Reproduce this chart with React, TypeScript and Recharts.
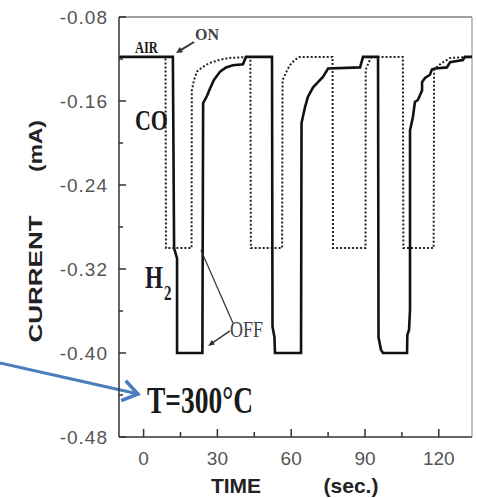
import React from 'react';
import { LineChart, Line, XAxis, YAxis, ReferenceLine, ReferenceDot } from 'recharts';

// ---- data (time in s, current in mA) ----
const h2Time = [-10, 11.9, 12.4, 13.6, 13.6, 23.9, 24.2, 25.8, 27.0, 28.6, 31.1, 33.5, 36.3, 40.4, 41.6, 52.2, 52.4, 53.2, 53.4, 64.0, 64.2, 65.6, 66.8, 68.9, 70.9, 72.9, 75.0, 88.0, 89.2, 95.3, 95.5, 96.5, 97.3, 107.1, 107.2, 107.9, 108.3, 108.3, 109.5, 110.3, 111.5, 113.2, 113.2, 114.4, 116.4, 117.2, 118.5, 123.3, 124.6, 129.8, 130.6, 133.5];
const h2Current = [-0.118, -0.118, -0.30, -0.31, -0.40, -0.40, -0.162, -0.155, -0.148, -0.140, -0.132, -0.128, -0.126, -0.125, -0.118, -0.118, -0.375, -0.385, -0.40, -0.40, -0.181, -0.166, -0.156, -0.147, -0.142, -0.137, -0.129, -0.128, -0.118, -0.118, -0.385, -0.397, -0.40, -0.40, -0.383, -0.378, -0.359, -0.188, -0.175, -0.161, -0.159, -0.150, -0.142, -0.138, -0.135, -0.130, -0.129, -0.128, -0.123, -0.121, -0.118, -0.118];

const coTime = [-10, 8.9, 9.1, 19.5, 19.6, 20.5, 21.7, 23.7, 26.6, 30.6, 34.6, 43.4, 43.6, 56.3, 56.5, 58.1, 59.4, 61.4, 63.4, 76.8, 77.0, 90.2, 90.3, 92.5, 105.4, 105.6, 117.9, 118.1, 119.0, 121.0, 123.2, 124.6, 133.5];
const coCurrent = [-0.118, -0.118, -0.30, -0.30, -0.15, -0.140, -0.132, -0.128, -0.124, -0.121, -0.119, -0.118, -0.30, -0.30, -0.14, -0.132, -0.126, -0.121, -0.118, -0.118, -0.30, -0.30, -0.13, -0.118, -0.118, -0.30, -0.30, -0.13, -0.128, -0.124, -0.121, -0.119, -0.118];

const xTicks = [0, 15, 30, 45, 60, 75, 90, 105, 120];
const xLabelTicks = [0, 30, 60, 90, 120];
const yTicks = [-0.48, -0.44, -0.40, -0.36, -0.32, -0.28, -0.24, -0.20, -0.16, -0.12, -0.08];
const yLabelTicks = [-0.48, -0.40, -0.32, -0.24, -0.16, -0.08];

const annotationTime = { air: -3.5, on: 20.9, co: -3.5, h2: 0.57, off: 35.1, temp: 1.38 };
const annotationCurrent = { air: -0.1143, on: -0.1019, co: -0.1876, h2: -0.3381, off: -0.3848, temp: -0.4571 };
const arrowOn = [{ x: 20.5, y: -0.1038 }, { x: 13.2, y: -0.1143 }];
const lineOff = [{ x: 36.3, y: -0.3714 }, { x: 23.3, y: -0.3019 }];
const arrowOff = [{ x: 35.1, y: -0.379 }, { x: 26.2, y: -0.3933 }];
const blueArrow = [{ x: -58.4, y: -0.4095 }, { x: -2.3, y: -0.439 }];

const h2Data = h2Time.map((t, i) => ({ t, current: h2Current[i] }));
const coData = coTime.map((t, i) => ({ t, current: coCurrent[i] }));

const SANS = '"Liberation Sans", Arial, sans-serif';
const SERIF = '"Liberation Serif", "Times New Roman", serif';

const near = (a: number, list: number[]) => list.some((v) => Math.abs(v - a) < 1e-6);

const XTick = (props: any) => {
  const { x, y, payload } = props;
  const major = near(payload.value, xLabelTicks);
  return (
    <g>
      <line x1={x} x2={x} y1={y} y2={y - (major ? 8 : 5)} stroke="#333" strokeWidth={1.5} />
      {major && (
        <text x={x} y={y + 28} textAnchor="middle" fontSize={19} fill="#555" fontFamily={SANS}>
          {payload.value}
        </text>
      )}
    </g>
  );
};

const YTick = (props: any) => {
  const { x, y, payload } = props;
  const major = near(payload.value, yLabelTicks);
  return (
    <g>
      <line x1={x} x2={x + (major ? 7 : 4)} y1={y} y2={y} stroke="#333" strokeWidth={1.5} />
      {major && (
        <text x={x - 11} y={y + 7} textAnchor="end" fontSize={19} fill="#555" fontFamily={SANS} letterSpacing={1}>
          {Number(payload.value).toFixed(2)}
        </text>
      )}
    </g>
  );
};

const XTitle = (props: any) => {
  const vb = props.viewBox || { x: 119, y: 437 };
  const y = vb.y + 56;
  return (
    <g fontFamily={SANS} fontWeight="bold" fontSize={21} fill="#222">
      <text x={vb.x + 117} y={y} textAnchor="middle">TIME</text>
      <text x={vb.x + 232} y={y} textAnchor="middle">(sec.)</text>
    </g>
  );
};

const YTitle = () => (
  <g fontFamily={SANS} fontWeight="bold" fontSize={19} fill="#222">
    <text transform="translate(42,279) rotate(-90) scale(1.37,1)" textAnchor="middle">CURRENT</text>
    <text transform="translate(42,146) rotate(-90) scale(1.2,1)" textAnchor="middle">(mA)</text>
  </g>
);

const serifText = (label: string, size: number, weight: string, sy: number, color = '#1a1a1a') => (p: any) => (
  <text transform={`translate(${p.cx},${p.cy}) scale(1,${sy})`} fontFamily={SERIF} fontSize={size} fontWeight={weight} fill={color}>
    {label}
  </text>
);

const h2Shape = (p: any) => (
  <text transform={`translate(${p.cx},${p.cy}) scale(1,1.37)`} fontFamily={SERIF} fontSize={23} fontWeight="bold" fill="#1a1a2a">
    H<tspan dx={1} dy={9} fontSize={15}>2</tspan>
  </text>
);

const arrowShape = (color: string, width: number, head: 'filled' | 'chevron' | 'none', len: number, spread: number) => (p: any) => {
  const { x1, y1, x2, y2 } = p;
  const ang = Math.atan2(y2 - y1, x2 - x1);
  const b1 = ang + Math.PI - spread;
  const b2 = ang + Math.PI + spread;
  const h1x = x2 + len * Math.cos(b1);
  const h1y = y2 + len * Math.sin(b1);
  const h2x = x2 + len * Math.cos(b2);
  const h2y = y2 + len * Math.sin(b2);
  const ex = head === 'filled' ? x2 - len * 0.7 * Math.cos(ang) : x2 - 3 * Math.cos(ang);
  const ey = head === 'filled' ? y2 - len * 0.7 * Math.sin(ang) : y2 - 3 * Math.sin(ang);
  return (
    <g>
      <line x1={x1} y1={y1} x2={head === 'none' ? x2 : ex} y2={head === 'none' ? y2 : ey} stroke={color} strokeWidth={width} />
      {head === 'filled' && <path d={`M${x2},${y2} L${h1x},${h1y} L${h2x},${h2y} Z`} fill={color} />}
      {head === 'chevron' && (
        <path d={`M${h1x},${h1y} L${x2},${y2} L${h2x},${h2y}`} fill="none" stroke={color} strokeWidth={width + 0.5} strokeLinejoin="miter" />
      )}
    </g>
  );
};

export default function App() {
  return (
    <div style={{ position: 'absolute', left: 0, top: 0, width: 477, height: 498, background: '#fff' }}>
      <LineChart width={477} height={498} margin={{ top: 17, right: 5, bottom: 0, left: 0 }}>
        <XAxis
          dataKey="t"
          type="number"
          domain={[-10, 133.5]}
          ticks={xTicks}
          interval={0}
          allowDataOverflow
          height={61}
          tickSize={0}
          tickMargin={0}
          tickLine={false}
          tick={<XTick />}
          axisLine={{ stroke: '#333', strokeWidth: 1.5 }}
          label={<XTitle />}
        />
        <YAxis
          type="number"
          domain={[-0.48, -0.08]}
          ticks={yTicks}
          interval={0}
          allowDataOverflow
          width={119}
          tickSize={0}
          tickMargin={0}
          tickLine={false}
          tick={<YTick />}
          axisLine={{ stroke: '#333', strokeWidth: 1.5 }}
          label={<YTitle />}
        />
        <ReferenceLine y={-0.08} stroke="#444" strokeWidth={1.2} />
        <ReferenceLine x={133.5} stroke="#999" strokeWidth={1.2} />
        <Line data={coData} dataKey="current" type="linear" stroke="#222" strokeWidth={2} strokeDasharray="2 2" dot={false} isAnimationActive={false} />
        <Line data={h2Data} dataKey="current" type="linear" stroke="#111" strokeWidth={2.6} dot={false} isAnimationActive={false} />
        <ReferenceLine segment={arrowOn} ifOverflow="visible" shape={arrowShape('#333', 2, 'filled', 7, 0.45)} />
        <ReferenceLine segment={lineOff} ifOverflow="visible" shape={arrowShape('#333', 1.2, 'none', 0, 0)} />
        <ReferenceLine segment={arrowOff} ifOverflow="visible" shape={arrowShape('#333', 1.4, 'filled', 7, 0.4)} />
        <ReferenceLine segment={blueArrow} ifOverflow="visible" shape={arrowShape('#4a7dbc', 3, 'chevron', 18, 0.6)} />
        <ReferenceDot x={annotationTime.air} y={annotationCurrent.air} ifOverflow="visible" shape={serifText('AIR', 12.5, 'bold', 1.37)} />
        <ReferenceDot x={annotationTime.on} y={annotationCurrent.on} ifOverflow="visible" shape={serifText('ON', 16, 'bold', 1.1, '#444')} />
        <ReferenceDot x={annotationTime.co} y={annotationCurrent.co} ifOverflow="visible" shape={serifText('CO', 22, 'bold', 1.37)} />
        <ReferenceDot x={annotationTime.h2} y={annotationCurrent.h2} ifOverflow="visible" shape={h2Shape} />
        <ReferenceDot x={annotationTime.off} y={annotationCurrent.off} ifOverflow="visible" shape={serifText('OFF', 18, 'normal', 1.3, '#444')} />
        <ReferenceDot x={annotationTime.temp} y={annotationCurrent.temp} ifOverflow="visible" shape={serifText('T=300°C', 27.5, 'bold', 1.37)} />
      </LineChart>
    </div>
  );
}
